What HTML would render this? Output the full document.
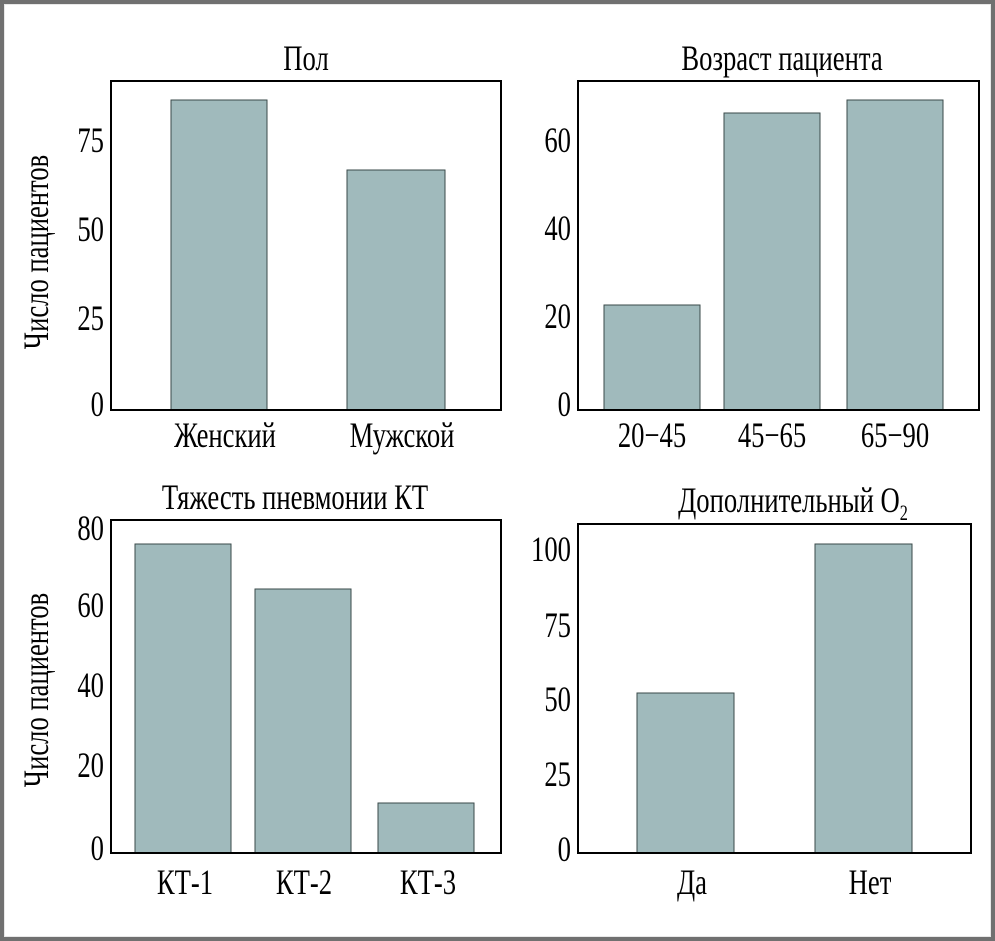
<!DOCTYPE html>
<html><head><meta charset="utf-8"><style>
html,body{margin:0;padding:0;background:#fff}
svg{display:block}
text{font-family:"Liberation Serif","DejaVu Serif",serif;font-size:36px;fill:#000}
.b{fill:#a0babc;stroke:#3a4a4a;stroke-width:1}
.f{fill:none;stroke:#000;stroke-width:2}
</style></head><body>
<svg width="995" height="941" viewBox="0 0 995 941">
<rect x="0" y="0" width="995" height="941" fill="#707070"/>
<rect x="4" y="4" width="987" height="933" fill="#e8e8e8"/>
<rect x="5" y="5" width="985" height="931" fill="#fff"/>

<!-- P1 -->
<text transform="translate(306,70) scale(.74,1)" text-anchor="middle">Пол</text>
<rect class="b" x="171" y="100" width="96" height="310"/>
<rect class="b" x="347" y="170" width="98" height="240"/>
<rect class="f" x="111" y="81" width="390" height="329"/>
<g text-anchor="end">
<text transform="translate(104,152) scale(.74,1)">75</text>
<text transform="translate(104,241) scale(.74,1)">50</text>
<text transform="translate(104,330) scale(.74,1)">25</text>
<text transform="translate(104,416) scale(.74,1)">0</text>
</g>
<text transform="translate(225,447) scale(.74,1)" text-anchor="middle">Женский</text>
<text transform="translate(402,447) scale(.74,1)" text-anchor="middle">Мужской</text>
<text transform="translate(48,252) rotate(-90) scale(.74,1)" text-anchor="middle">Число пациентов</text>

<!-- P2 -->
<text transform="translate(782,70) scale(.74,1)" text-anchor="middle">Возраст пациента</text>
<rect class="b" x="604" y="305" width="96" height="105"/>
<rect class="b" x="724" y="113" width="96" height="297"/>
<rect class="b" x="847" y="100" width="96" height="310"/>
<rect class="f" x="578" y="81" width="401" height="329"/>
<g text-anchor="end">
<text transform="translate(571,152) scale(.74,1)">60</text>
<text transform="translate(571,240) scale(.74,1)">40</text>
<text transform="translate(571,328) scale(.74,1)">20</text>
<text transform="translate(571,416) scale(.74,1)">0</text>
</g>
<text transform="translate(652,447) scale(.74,1)" text-anchor="middle">20−45</text>
<text transform="translate(772,447) scale(.74,1)" text-anchor="middle">45−65</text>
<text transform="translate(895,447) scale(.74,1)" text-anchor="middle">65−90</text>

<!-- P3 -->
<text transform="translate(295,509) scale(.74,1)" text-anchor="middle">Тяжесть пневмонии КТ</text>
<rect class="b" x="135" y="544" width="96" height="309"/>
<rect class="b" x="255" y="589" width="96" height="264"/>
<rect class="b" x="378" y="803" width="96" height="50"/>
<rect class="f" x="111" y="520" width="390" height="333"/>
<g text-anchor="end">
<text transform="translate(104,540) scale(.74,1)">80</text>
<text transform="translate(104,617) scale(.74,1)">60</text>
<text transform="translate(104,697) scale(.74,1)">40</text>
<text transform="translate(104,777) scale(.74,1)">20</text>
<text transform="translate(104,860) scale(.74,1)">0</text>
</g>
<text transform="translate(185,894) scale(.74,1)" text-anchor="middle">КТ-1</text>
<text transform="translate(304,894) scale(.74,1)" text-anchor="middle">КТ-2</text>
<text transform="translate(428,894) scale(.74,1)" text-anchor="middle">КТ-3</text>
<text transform="translate(48,690) rotate(-90) scale(.74,1)" text-anchor="middle">Число пациентов</text>

<!-- P4 -->
<text transform="translate(793,512) scale(.74,1)" text-anchor="middle">Дополнительный О<tspan font-size="22" dy="8">2</tspan></text>
<rect class="b" x="637" y="693" width="97" height="160"/>
<rect class="b" x="815" y="544" width="97" height="309"/>
<rect class="f" x="578" y="524" width="393" height="329"/>
<g text-anchor="end">
<text transform="translate(571,561) scale(.74,1)">100</text>
<text transform="translate(571,637) scale(.74,1)">75</text>
<text transform="translate(571,711) scale(.74,1)">50</text>
<text transform="translate(571,786) scale(.74,1)">25</text>
<text transform="translate(571,861) scale(.74,1)">0</text>
</g>
<text transform="translate(692,894) scale(.74,1)" text-anchor="middle">Да</text>
<text transform="translate(870,894) scale(.74,1)" text-anchor="middle">Нет</text>
</svg>
</body></html>
